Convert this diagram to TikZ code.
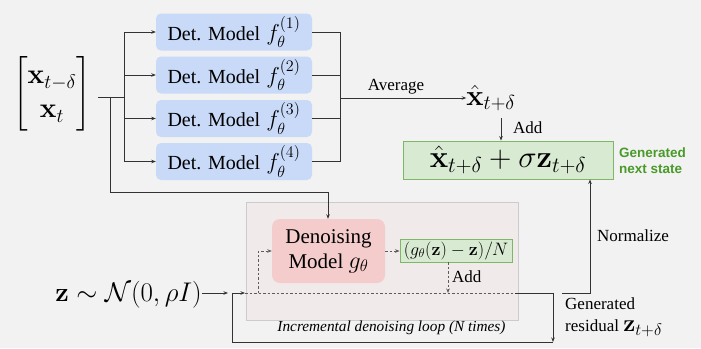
\RequirePackage{fix-cm}
\documentclass[tikz,border=0pt]{standalone}
\usepackage{amsmath}
\usepackage[no-math]{fontspec}
\setmainfont{Liberation Serif}
\newfontfamily\gsans{Liberation Sans}
\usetikzlibrary{arrows.meta,positioning,calc}
\definecolor{bgc}{HTML}{F2F2F2}
\definecolor{bluebox}{HTML}{C9DAF8}
\definecolor{pinkbox}{HTML}{F4CCCC}
\definecolor{loopfill}{HTML}{F1EAEA}
\definecolor{loopdraw}{HTML}{CCCCCC}
\definecolor{greenfill}{HTML}{D9EAD3}
\definecolor{greendraw}{HTML}{7DB866}
\definecolor{greentext}{HTML}{4A9A2A}
\definecolor{linec}{HTML}{333333}
\tikzset{
  conn/.style={draw=linec, line width=0.9pt},
  arr/.style={conn, -{Stealth[length=4.5pt,width=3.5pt]}},
  dsh/.style={draw=linec!80, line width=0.8pt, dash pattern=on 2.5pt off 2pt},
  darr/.style={dsh, -{Stealth[length=4.5pt,width=3.5pt]}},
  detbox/.style={fill=bluebox, rounded corners=5pt, minimum width=156pt, minimum height=37pt, inner sep=0pt, font=\fontsize{20}{24}\selectfont},
  lbl/.style={font=\fontsize{17}{20}\selectfont, inner sep=0pt},
}
\newcommand{\fth}[1]{{\fontsize{23}{24}\selectfont$f_\theta^{(#1)}$}}
\begin{document}
\begin{tikzpicture}[x=1pt,y=-1pt]
\fill[bgc] (0,0) rectangle (701,348);
\useasboundingbox (0,0) rectangle (701,348);

% input matrix
\node[inner sep=0pt, font=\fontsize{28}{34}\selectfont] (inp) at (52,94) {$\begin{bmatrix}\mathbf{x}_{t-\delta}\\ \mathbf{x}_t\end{bmatrix}$};

% det models
\node[detbox] (m1) at (234,32) {Det. Model\hspace{6pt}\fth{1}};
\node[detbox] (m2) at (234,75) {Det. Model\hspace{6pt}\fth{2}};
\node[detbox] (m3) at (234,118.5) {Det. Model\hspace{6pt}\fth{3}};
\node[detbox] (m4) at (234,161.5) {Det. Model\hspace{6pt}\fth{4}};

\coordinate (jl) at (124,97);
\coordinate (jd) at (110,97);
\draw[conn] (98,97) -- (jl);
\draw[conn] (124,32) -- (124,161.5);
\foreach \m in {m1,m2,m3,m4}{
  \draw[arr] (124,0 |- \m.west) -- (\m.west);
}

% right collector
\foreach \m in {m1,m2,m3,m4}{
  \draw[conn] (\m.east) -- (340,0 |- \m.east);
}
\draw[conn] (340,32) -- (340,161.5);

% xhat
\node[inner sep=0pt, font=\fontsize{29}{34}\selectfont] (xh) at (491,98) {$\hat{\mathbf{x}}_{t+\delta}$};
\draw[arr] (340,98) -- (xh.west |- 0,98);
\node[lbl] (avg) at (396,87) {Average};

% generated next state box
\node[fill=greenfill, draw=greendraw, line width=0.9pt, minimum width=210pt, minimum height=38pt, inner sep=0pt, font=\fontsize{31}{36}\selectfont] (gen) at (508,160) {$\hat{\mathbf{x}}_{t+\delta}+\sigma\mathbf{z}_{t+\delta}$};
\draw[arr] (501,118) -- (501,0 |- gen.north);
\node[lbl, anchor=west] (add1) at (513,128) {Add};
\node[anchor=west, align=left, inner sep=0pt, text=greentext, font=\gsans\bfseries\fontsize{13.5}{16}\selectfont] (gns) at (619,161) {Generated\\next state};

% loop box
\draw[fill=loopfill, draw=loopdraw, line width=0.9pt] (246,202) rectangle (518,320);
\node[font=\itshape\fontsize{15.3}{18}\selectfont, inner sep=0pt] (looplbl) at (391.5,328) {Incremental denoising loop (N times)};

% denoising model
\node[fill=pinkbox, rounded corners=8pt, minimum width=113pt, minimum height=64pt, inner sep=0pt, align=center, font=\fontsize{21}{25}\selectfont] (den) at (328.5,251) {Denoising\\Model {\fontsize{24}{25}\selectfont$g_\theta$}};

% connector to denoising model
\draw[arr] (jd) -- (110,192) -- (328,192) -- (328,0 |- den.north);

% small green box
\node[fill=greenfill, draw=greendraw, line width=0.9pt, minimum width=112pt, minimum height=23pt, inner sep=0pt, font=\fontsize{18}{22}\selectfont] (res) at (456,250.5) {$(g_\theta(\mathbf{z})-\mathbf{z})/N$};
\draw[darr] (den.east |- 0,251) -- (res.west |- 0,251);
\coordinate (addpt) at (448,293);
\draw[darr] (448,0 |- res.south) -- (addpt);
\node[lbl, anchor=west] (add2) at (452,277) {Add};

% dashed main line
\coordinate (loopin) at (245,293);
\coordinate (loopout) at (515,293);
\draw[dsh] (loopin) -- (loopout);
\draw[darr] (258,293) -- (258,251) -- (den.west |- 0,251);

% z input
\node[inner sep=0pt, font=\fontsize{27}{32}\selectfont, anchor=east] (zin) at (202,295) {$\mathbf{z}\sim\mathcal{N}(0,\rho I)$};
\draw[arr] (zin.east |- 0,293) -- (228,293);

% loop return
\coordinate (lb) at (553,342);
\draw[arr] (loopout) -- (553,293) -- (lb);
\draw[arr] (lb) -- (232,342) -- (232,293) -- (loopin);

% generated residual
\node[anchor=north west, align=left, inner sep=0pt, font=\fontsize{17}{22}\selectfont] (gres) at (565,298) {Generated\\residual {\fontsize{24}{24}\selectfont$\mathbf{z}_{t+\delta}$}};
\coordinate (ns) at (562,293);
\draw[arr] (ns) -- (590,293) -- (590,0 |- gen.south);
\node[lbl, anchor=west] (norm) at (597,236) {Normalize};
\end{tikzpicture}
\end{document}
